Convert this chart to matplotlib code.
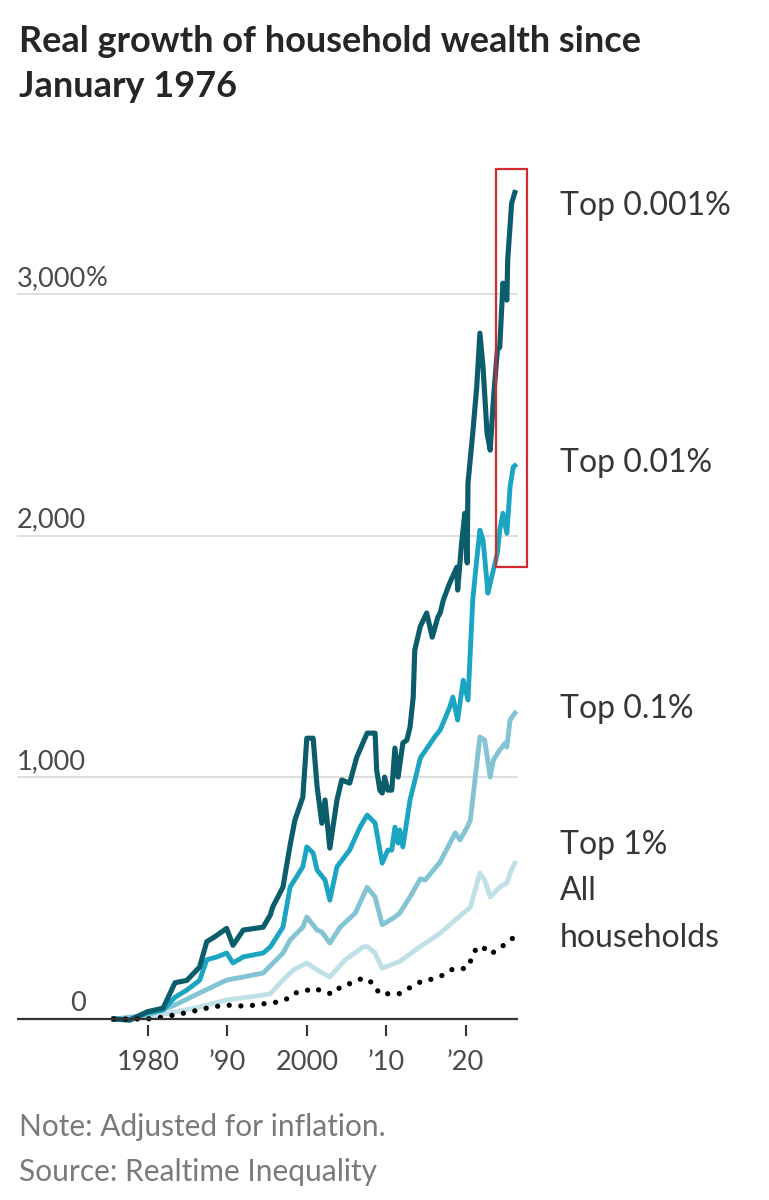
import numpy as np
import matplotlib.pyplot as plt
from matplotlib.patches import Rectangle
import matplotlib.transforms as mtransforms

plt.rcParams['font.family'] = ['Lato', 'DejaVu Sans']

# data (year, % growth)
top0001_x = [1975.7, 1977.7, 1979.9, 1981.9, 1983.4, 1984.9, 1986.5, 1987.4, 1988.4, 1989.9,
             1990.7, 1992.0, 1994.5, 1995.4, 1995.7, 1997.0, 1997.9, 1998.5, 1999.5, 2000.0,
             2000.8, 2001.3, 2001.9, 2002.3, 2002.9, 2003.8, 2004.4, 2005.4, 2006.3, 2007.6,
             2008.6, 2008.8, 2009.2, 2009.5, 2009.8, 2010.2, 2010.7, 2011.1, 2011.5, 2012.1,
             2012.6, 2013.0, 2013.4, 2013.6, 2014.3, 2015.1, 2015.8, 2016.5, 2016.8, 2017.2,
             2018.0, 2018.9, 2019.0, 2019.5, 2019.9, 2020.2, 2020.3, 2020.9, 2021.4, 2021.8,
             2022.2, 2022.7, 2023.1, 2023.5, 2024.0, 2024.3, 2024.6, 2024.7, 2025.2, 2025.3,
             2025.8, 2026.2]
top0001_y = [0, -5, 30, 45, 150, 160, 215, 320, 340, 375,
             305, 368, 380, 430, 463, 546, 720, 823, 918, 1162,
             1162, 960, 810, 906, 707, 906, 989, 976, 1084, 1183,
             1183, 1030, 947, 935, 1001, 947, 947, 1121, 1001, 1142,
             1154, 1208, 1330, 1527, 1625, 1680, 1580, 1663, 1680, 1734,
             1804, 1870, 1775, 1969, 2093, 1887, 2217, 2424, 2615, 2838,
             2697, 2424, 2354, 2561, 2768, 2780, 2975, 3045, 2975, 3140,
             3376, 3420]

top001_x = [1975.7, 1977.7, 1979.9, 1981.9, 1983.4, 1984.9, 1986.5, 1987.4, 1988.7, 1989.9,
            1990.7, 1992.0, 1994.5, 1995.4, 1997.0, 1997.9, 1999.5, 2000.0, 2000.8, 2001.3,
            2002.3, 2002.9, 2003.8, 2005.4, 2006.7, 2007.6, 2008.6, 2009.2, 2009.5, 2010.2,
            2010.7, 2011.1, 2011.5, 2011.7, 2012.1, 2013.0, 2014.3, 2016.1, 2016.8, 2018.0,
            2018.4, 2019.0, 2019.7, 2020.3, 2020.9, 2021.4, 2021.8, 2022.2, 2022.7, 2022.8,
            2023.5, 2024.0, 2024.3, 2024.7, 2025.2, 2025.6, 2026.0, 2026.2]
top001_y = [0, -3, 25, 37, 90, 120, 160, 245, 257, 273,
            232, 257, 273, 298, 380, 546, 630, 712, 687, 616,
            575, 492, 630, 699, 794, 844, 811, 699, 645, 699,
            699, 794, 728, 782, 712, 906, 1080, 1167, 1196, 1290,
            1332, 1237, 1402, 1320, 1734, 1900, 2023, 1982, 1804, 1762,
            1858, 1928, 2023, 2093, 2010, 2201, 2284, 2290]

top01_x = [1975.7, 1979.9, 1983.4, 1986.5, 1989.9, 1992.0, 1994.5, 1997.0, 1997.9, 1999.5,
           2000.0, 2001.3, 2001.9, 2002.9, 2004.2, 2006.1, 2007.6, 2008.6, 2009.5, 2011.1,
           2011.7, 2013.0, 2014.3, 2014.9, 2016.8, 2018.7, 2019.3, 2020.2, 2020.6, 2021.8,
           2022.4, 2023.1, 2023.5, 2024.3, 2025.0, 2025.2, 2025.6, 2026.2]
top01_y = [0, 15, 58, 108, 161, 174, 190, 273, 327, 380,
           422, 368, 360, 314, 380, 438, 545, 505, 390, 422,
           438, 505, 580, 575, 650, 770, 741, 794, 823, 1167,
           1154, 1001, 1072, 1113, 1142, 1125, 1237, 1266]

top1_x = [1975.7, 1979.9, 1983.4, 1986.5, 1989.9, 1994.5, 1995.4, 1997.0, 1998.3, 2000.0,
          2001.3, 2002.9, 2004.8, 2007.1, 2007.6, 2008.6, 2009.5, 2011.7, 2014.3, 2016.8,
          2018.7, 2020.6, 2021.8, 2022.4, 2023.1, 2024.3, 2025.2, 2025.6, 2026.2]
top1_y = [0, 8, 29, 50, 79, 99, 105, 161, 203, 232,
          203, 174, 244, 298, 300, 273, 210, 238, 300, 355,
          410, 463, 604, 575, 505, 546, 563, 604, 645]

all_x = [1975.7, 1979.9, 1981.9, 1985.3, 1986.8, 1988.2, 1989.8, 1991.2, 1992.7, 1994.2,
         1995.7, 1997.3, 1998.5, 1999.5, 2000.8, 2001.9, 2003.2, 2004.4, 2005.7, 2007.1,
         2008.3, 2009.2, 2010.5, 2011.7, 2013.0, 2014.5, 2015.8, 2017.2, 2018.4, 2019.3,
         2020.2, 2020.8, 2021.4, 2022.3, 2023.2, 2024.1, 2025.2, 2026.1]
all_y = [0, 0, 8, 29, 41, 50, 58, 54, 54, 62,
         66, 79, 108, 112, 128, 116, 103, 137, 149, 170,
         149, 103, 105, 105, 130, 157, 165, 182, 207, 207,
         211, 252, 298, 294, 269, 290, 314, 339]

xticks = [1980, 1990, 2000, 2010, 2020]
xtick_labels = ['1980', '\u201990', '2000', '\u201910', '\u201920']
yticks = [0, 1000, 2000, 3000]
ytick_labels = ['0', '1,000', '2,000', '3,000']

series_labels = ['Top 0.001%', 'Top 0.01%', 'Top 0.1%', 'Top 1%', 'All', 'households']
label_base = [215, 472, 718, 854, 900, 947]

fig = plt.figure(figsize=(7.69, 12), dpi=100)
ax = fig.add_axes([0.0221, 0.1458, 0.6515, 0.73])

ax.plot(top1_x, top1_y, color='#c0e0e8', lw=3.5, clip_on=False, solid_joinstyle='round')
ax.plot(top01_x, top01_y, color='#82c4d4', lw=3.5, clip_on=False, solid_joinstyle='round')
ax.plot(top001_x, top001_y, color='#1ba5c3', lw=3.5, clip_on=False, solid_joinstyle='round')
ax.plot(top0001_x, top0001_y, color='#0b5d6b', lw=3.7, clip_on=False, solid_joinstyle='round')
ax.plot(all_x, all_y, color='black', lw=3.8, linestyle=(0, (0.01, 2.2)),
        dash_capstyle='round', clip_on=False)

for v in yticks[1:]:
    ax.axhline(v, color='#dcdcdc', lw=1.3, zorder=0)
ax.axhline(0, color='#333333', lw=1.6, zorder=3)

ax.set_xlim(1963.5, 2026.6)
ax.set_ylim(-25, 3600)
for s in ax.spines.values():
    s.set_visible(False)
ax.set_yticks([])
ax.set_xticks(xticks)
ax.set_xticklabels(xtick_labels, fontsize=19.5, color='#4a4a4a')
ax.tick_params(axis='x', length=8, width=1.5, color='#333333', pad=10)

# y labels sit above the grid lines, the % hangs to the right
trans = mtransforms.blended_transform_factory(ax.transAxes, ax.transData)
for v, lab in zip(yticks, ytick_labels):
    ax.text(0.138, v + 33, lab, transform=trans, ha='right', va='baseline',
            fontsize=19.5, color='#4a4a4a')
ax.text(0.138, 3000 + 33, '%', transform=trans, ha='left', va='baseline',
        fontsize=19.5, color='#4a4a4a')

# red box round the last months
ax.add_patch(Rectangle((2023.8, 1870), 3.9, 1647, fill=False, edgecolor='#d42a30',
                       lw=1.6, clip_on=False, zorder=5))

# labels on the right
for lab, yb in zip(series_labels, label_base):
    fig.text(560 / 769, 1 - yb / 1200, lab, fontsize=23, color='#363636', va='baseline')

fig.text(19 / 769, 1 - 52 / 1200, 'Real growth of household wealth since', fontsize=26,
         fontweight='bold', color='#262626', va='baseline')
fig.text(19 / 769, 1 - 97 / 1200, 'January 1976', fontsize=26,
         fontweight='bold', color='#262626', va='baseline')

fig.text(19 / 769, 1 - 1136 / 1200, 'Note: Adjusted for inflation.', fontsize=21.5,
         color='#7a7a7a', va='baseline')
fig.text(19 / 769, 1 - 1181 / 1200, 'Source: Realtime Inequality', fontsize=21.5,
         color='#7a7a7a', va='baseline')

fig.savefig('out.png', dpi=100)
